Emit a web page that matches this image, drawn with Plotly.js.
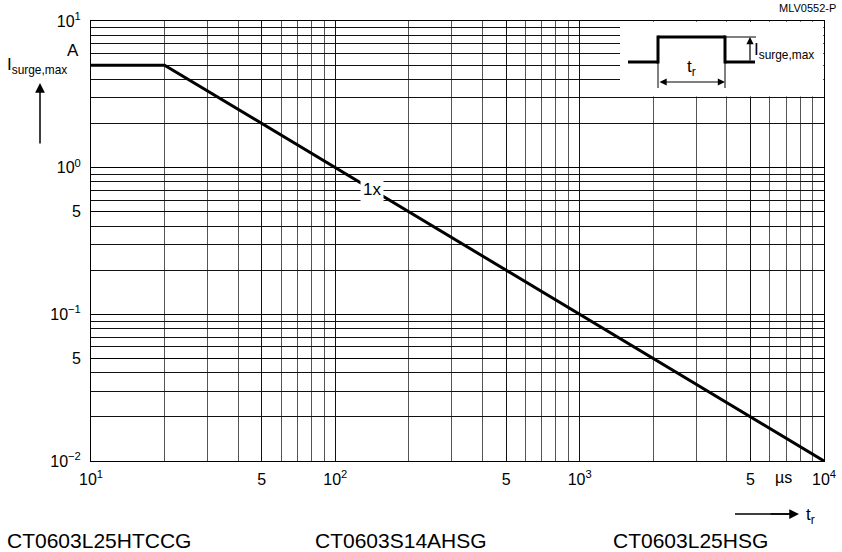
<!DOCTYPE html>
<html>
<head>
<meta charset="utf-8">
<script src="https://cdn.plot.ly/plotly-3.0.1.min.js"></script>
<style>html,body{margin:0;padding:0;background:#fff;}#chart{width:842px;height:552px;}</style>
</head>
<body>
<div id="chart"></div>
<script>
// Data: pulse duration t_r (µs) vs max surge current (A)
const tr = [10, 20, 10000];
const isurge = [5, 5, 0.01];

// Tick labels
const xTickVals = [10, 50, 100, 500, 1000, 5000, 10000];
const xTickText = ['10<sup>1</sup>', '5', '10<sup>2</sup>', '5', '10<sup>3</sup>', '5', '10<sup>4</sup>'];
const yTickVals = [10, 1, 0.5, 0.1, 0.05, 0.01];
const yTickText = ['10<sup>1</sup>', '10<sup>0</sup>', '5', '10<sup>−1</sup>', '5', '10<sup>−2</sup>'];
const partNames = ['CT0603L25HTCCG', 'CT0603S14AHSG', 'CT0603L25HSG'];

const W = 842, H = 552, L = 91, R = 18, T = 21, B = 91;
const PW = W - L - R, PH = H - T - B;
const px = v => (v - L) / PW;
const py = v => (H - B - v) / PH;

// grid positions 1..9 per decade
function gridVals(lo, hi) {
  const out = [];
  for (let e = lo; e < hi; e++) for (let m = 1; m < 10; m++) out.push(m * Math.pow(10, e));
  out.push(Math.pow(10, hi));
  return out;
}
const xg = gridVals(1, 4), yg = gridVals(-2, 1);

const font = 'Liberation Sans, Arial, Helvetica, sans-serif';

const trace = {
  x: tr, y: isurge, mode: 'lines', type: 'scatter',
  line: {color: '#000', width: 3}, hoverinfo: 'skip', showlegend: false
};

const thin = {color: '#000', width: 1};
const thick = {color: '#000', width: 3};
function seg(x0, y0, x1, y1, line) {
  return {type: 'line', xref: 'paper', yref: 'paper', x0: px(x0), y0: py(y0), x1: px(x1), y1: py(y1), line: line, layer: 'above'};
}
function txt(x, y, text, size, xanchor) {
  return {xref: 'paper', yref: 'paper', x: px(x), y: py(y), xanchor: xanchor || 'center', yanchor: 'middle',
    text: text, showarrow: false, font: {family: font, size: size, color: '#000'}};
}
function arrow(x, y, ax, ay, w, extra) {
  return Object.assign({xref: 'paper', yref: 'paper', x: px(x), y: py(y), ax: ax, ay: ay, text: '', showarrow: true,
    arrowhead: 2, arrowsize: 1.3, arrowwidth: w, arrowcolor: '#000'}, extra || {});
}

const shapes = [
  {type: 'rect', xref: 'paper', yref: 'paper', x0: px(620), x1: px(823.3), y0: py(96.5), y1: py(21.7),
   fillcolor: '#fff', line: {width: 0}, layer: 'above'},
  // pulse
  seg(628, 62, 658, 62, thick),
  seg(658, 63.5, 658, 35.5, thick),
  seg(658, 37, 725, 37, thick),
  seg(725, 35.5, 725, 63.5, thick),
  seg(725, 62, 755, 62, thick),
  // dimension lines
  seg(658, 62, 658, 88, thin),
  seg(725, 62, 725, 88, thin),
  seg(725, 37, 756, 37, thin),
  // x axis title arrow shaft
  seg(735, 514, 790, 514, {color: '#000', width: 1.5})
];

const annotations = [
  arrow(725, 82, -67, 0, 1.2, {arrowside: 'end+start', startarrowhead: 2, arrowsize: 1.2, startarrowsize: 1.2}),
  arrow(750, 37, 0, 25, 1.2, {arrowsize: 1.2}),
  txt(691, 68, 't<sub>r</sub>', 17),
  txt(752, 51, 'I<sub>surge,max</sub>', 17, 'left'),
  // y axis title
  txt(5, 66, 'I<sub>surge,max</sub>', 17, 'left'),
  txt(73, 50, 'A', 17),
  arrow(40, 83, 0, 62, 1.5),
  // x axis title
  arrow(799, 514, -30, 0, 1.5),
  txt(810, 516, 't<sub>r</sub>', 17),
  {xref: 'x', yref: 'paper', x: Math.log10(6800), y: py(477), xanchor: 'center', yanchor: 'middle',
   text: 'µs', showarrow: false, font: {family: font, size: 16, color: '#000'}},
  // curve label
  {xref: 'x', yref: 'y', x: Math.log10(141), y: Math.log10(0.71), xanchor: 'center', yanchor: 'middle',
   text: '1x', showarrow: false, bgcolor: '#fff', borderpad: 2, font: {family: font, size: 17, color: '#000'}},
  // id
  txt(838, 8, 'MLV0552-P', 11, 'right'),
  // part names
  txt(5, 540, partNames[0], 21, 'left'),
  txt(313, 540, partNames[1], 21, 'left'),
  txt(611, 540, partNames[2], 21, 'left')
];

const axisCommon = {
  type: 'log', tickmode: 'array', showgrid: true, gridwidth: 1, ticks: '', showline: true, mirror: true,
  linecolor: '#000', linewidth: 1, zeroline: false, tickfont: {family: font, size: 16, color: '#000'}
};

const layout = {
  width: W, height: H,
  margin: {l: L, r: R, t: T, b: B, pad: 0},
  paper_bgcolor: '#fff', plot_bgcolor: '#fff',
  font: {family: font, size: 16, color: '#000'},
  xaxis: Object.assign({}, axisCommon, {
    range: [1, 4], tickvals: xTickVals, ticktext: xTickText, gridcolor: '#111', ticklabelstandoff: 4,
    minor: {tickmode: 'array', tickvals: xg, showgrid: true, gridcolor: '#555', gridwidth: 1, ticks: ''}
  }),
  yaxis: Object.assign({}, axisCommon, {
    range: [-2, 1], tickvals: yTickVals, ticktext: yTickText, gridcolor: '#000', ticklabelstandoff: 6,
    minor: {tickmode: 'array', tickvals: yg, showgrid: true, gridcolor: '#111', gridwidth: 1, ticks: ''}
  }),
  shapes: shapes,
  annotations: annotations,
  showlegend: false
};

Plotly.newPlot('chart', [trace], layout, {staticPlot: true, displayModeBar: false});
</script>
</body>
</html>
